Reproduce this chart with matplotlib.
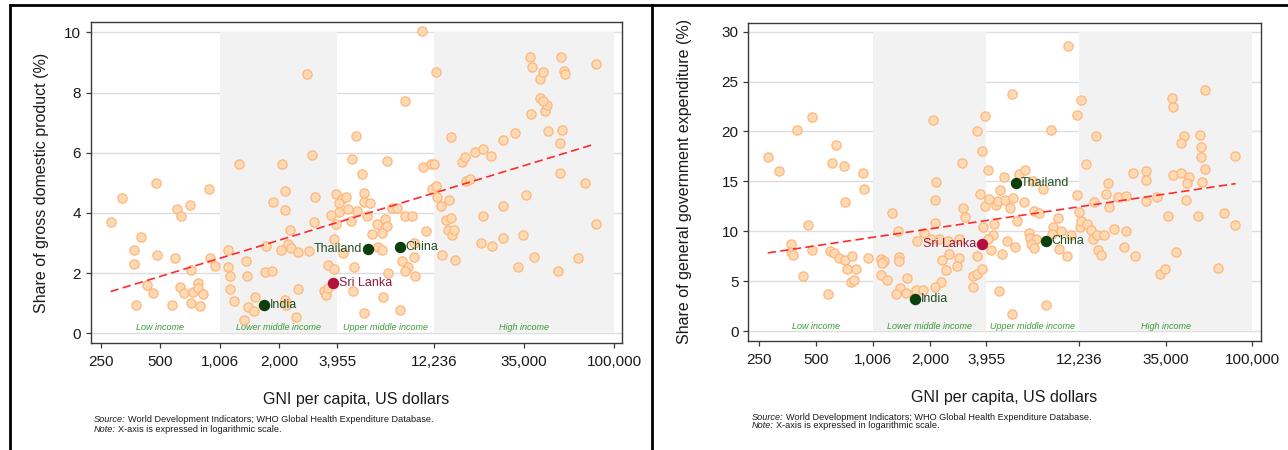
import numpy as np
import matplotlib
matplotlib.use("Agg")
import matplotlib.pyplot as plt
from matplotlib.lines import Line2D
from matplotlib.ticker import NullLocator, FixedLocator, FixedFormatter

plt.rcParams['font.family'] = ['Liberation Sans', 'DejaVu Sans']

# ---------------- data: panel 1 (share of GDP) ----------------
gdp_gni = [477, 319, 885, 607, 709, 638, 280, 400, 370, 370, 479, 597, 895, 949, 717,
           428, 459, 379, 577, 628, 661, 729, 779, 779, 819, 717, 791,
           1261, 1867, 1105, 1109, 1126, 1135, 1189, 1357, 1378, 1721, 1694, 1838, 1513,
           1400, 1496, 1331,
           2082, 2788, 10662, 12465, 8679, 4898, 14900, 2943, 4694, 7089, 10747, 11803,
           12270, 5255, 2140, 2156, 3060, 3894, 4161, 4359, 4049, 4016, 4463, 4957, 5420,
           5420, 5791, 5591, 3660, 3024, 2277, 3879, 4640, 6284, 6925, 7060, 6685, 5927,
           7458, 7965, 8713, 9416, 11130, 11892, 12465, 12658, 13262, 14615, 14056, 14390,
           15020, 13364,
           3805, 3561, 3805, 4242, 4787, 6383, 6685, 9714, 9714, 8379, 9057, 8713, 9791,
           7116, 4730, 6764, 5378, 8186,
           3385, 3452, 3561, 2509, 2148, 2160, 2432, 2050, 2216, 2304, 2509, 2853,
           14900, 15432, 15614, 16880, 17543, 17680, 18675, 19720, 21570, 23670, 27340,
           31320, 21570, 21150, 24130, 27450, 27450, 35750, 34520, 32430, 39400, 51720,
           65840, 70890, 81230, 53160, 53370, 54200, 46040, 38050, 44460, 45500, 41940,
           43590, 37600, 38340, 42270, 43590, 53580, 55920, 56140, 80920]
gdp_share = [5.01, 4.49, 4.79, 4.13, 4.28, 3.89, 3.70, 3.21, 2.78, 2.31, 2.61, 2.50, 2.52, 2.23, 2.11,
             1.61, 1.33, 0.94, 0.96, 1.53, 1.33, 1.36, 1.66, 1.50, 1.30, 1.02, 0.92,
             5.62, 4.38, 2.78, 2.22, 1.90, 1.49, 1.07, 2.40, 1.91, 2.91, 2.03, 2.07, 1.22,
             0.89, 0.76, 0.46,
             5.64, 8.61, 10.04, 8.68, 7.71, 6.56, 6.51, 5.92, 5.79, 5.74, 5.53, 5.64,
             5.62, 5.30, 4.74, 4.11, 4.54, 4.62, 4.48, 4.52, 4.34, 4.04, 4.12, 4.07, 4.66,
             4.37, 4.32, 3.89, 3.94, 3.71, 3.42, 3.62, 3.74, 3.62, 3.80, 3.57, 3.32, 3.31,
             4.17, 4.18, 3.91, 3.89, 3.39, 4.81, 4.88, 4.53, 4.24, 4.44, 3.78, 3.42,
             3.26, 2.59,
             3.12, 2.26, 2.14, 2.68, 2.22, 2.87, 2.76, 3.01, 2.53, 2.42, 2.20, 2.07, 1.90,
             2.01, 1.40, 1.22, 0.68, 0.79,
             1.40, 1.29, 1.50, 1.47, 1.12, 0.95, 0.56, 2.78, 2.96, 2.83, 2.70, 2.73,
             3.83, 3.44, 2.44, 5.70, 5.87, 5.06, 5.13, 6.03, 6.13, 5.88, 6.41,
             6.66, 3.89, 2.99, 2.89, 4.23, 3.17, 4.58, 3.28, 2.20, 2.53, 2.07,
             2.51, 5.00, 3.63, 5.32, 6.33, 6.77, 6.71, 7.27, 7.37, 7.59, 7.82,
             7.73, 9.17, 8.86, 8.46, 8.67, 9.17, 8.73, 8.61, 8.96]
gdp_hl_names = ["India", "Thailand", "China", "Sri Lanka"]
gdp_hl_gni = [1681, 5657, 8186, 3775]
gdp_hl_share = [0.93, 2.80, 2.88, 1.69]
gdp_trend_gni = [280, 80000]
gdp_trend_share = [1.39, 6.29]

# ---------------- data: panel 2 (share of government expenditure) ----------------
gghe_gni = [279, 319, 398, 480, 637, 607, 705, 884, 894, 716, 457, 369, 369, 381, 478,
            594, 626, 663, 716, 777, 728, 818, 767, 792, 428, 578, 947,
            1262, 1352, 1717, 1860, 1100, 1145, 1120, 1379, 1374, 1100, 1188, 1508, 1391,
            1325, 1490, 1689, 1831,
            10740, 5443, 12485, 11883, 8669, 3904, 2086, 3529, 3749, 2941, 4033, 15030,
            13310, 2145, 2128, 3002, 3062, 2119, 3660, 3890, 4082, 4463, 4686, 4591, 4958,
            5268, 5486, 4898, 5925, 6346, 6966, 7929, 6295, 5737, 7078, 7552, 4355, 3811,
            9437, 8952, 9786, 8772, 6689, 6720, 7223, 6799, 7108, 5620, 5100, 4782, 4217,
            4280, 4066, 9630, 10613, 11100, 12377, 12485, 12175, 11883, 13530, 14094,
            14440, 14614, 15343, 4628, 5397, 8190,
            2018, 2224, 2502, 2859, 2307, 2531, 2859, 2790, 2431, 2279, 2128, 3388, 3388,
            3557, 3749, 3557,
            15160, 15970, 16640, 18790, 21550, 21210, 24130, 17670, 16900, 17460, 19560,
            21550, 23650, 27490, 27490, 27490, 31400, 35880, 39570, 32700, 34610, 37830,
            38300, 56270, 43590, 42030, 53370, 54030, 53590, 56500, 54480, 38300, 42370,
            46330, 45390, 44660, 52090, 71130, 81310, 81310, 66150]
gghe_share = [17.47, 16.03, 20.10, 21.47, 18.60, 16.83, 16.57, 15.87, 14.23, 12.97, 10.63, 8.70, 7.87, 7.60, 8.10,
              8.03, 7.77, 7.33, 7.10, 7.47, 6.20, 6.20, 4.93, 5.10, 5.50, 3.70, 7.27,
              11.87, 10.03, 9.07, 9.80, 7.17, 7.00, 6.77, 7.40, 7.03, 5.60, 5.07, 5.33, 4.27,
              3.70, 3.83, 4.10, 4.10,
              28.53, 23.80, 23.17, 21.63, 20.17, 21.50, 21.13, 20.00, 18.03, 16.87, 16.17, 19.50,
              16.77, 14.97, 13.10, 12.37, 11.40, 10.87, 13.73, 12.53, 13.20, 12.60, 14.13, 13.00, 13.17,
              12.33, 13.33, 15.47, 15.77, 16.17, 15.03, 14.27, 12.93, 11.07, 12.07, 11.87, 10.73, 10.43,
              11.30, 10.40, 10.00, 9.77, 9.87, 9.37, 9.27, 8.70, 8.33, 8.43, 9.03, 7.70, 8.13,
              9.60, 9.27, 8.17, 7.47, 9.67, 10.43, 11.00, 11.93, 13.63, 10.77, 10.10,
              9.23, 12.93, 8.10, 3.97, 1.70, 2.63,
              9.27, 9.27, 9.00, 9.20, 7.10, 7.67, 7.33, 6.50, 6.10, 4.87, 4.43, 4.37, 5.53,
              5.67, 6.17, 7.53,
              9.60, 7.57, 9.67, 10.27, 10.07, 8.40, 7.50, 12.43, 13.70, 14.80, 13.40,
              13.53, 15.80, 16.00, 15.10, 13.07, 13.43, 11.53, 7.90, 5.67, 6.20, 23.37,
              22.47, 24.20, 19.53, 18.83, 19.63, 18.43, 17.40, 16.23, 14.90, 15.67, 15.83,
              15.40, 14.87, 13.10, 11.57, 11.87, 17.57, 10.60, 6.30]
gghe_hl_names = ["India", "Thailand", "China", "Sri Lanka"]
gghe_hl_gni = [1675, 5666, 8190, 3765]
gghe_hl_share = [3.20, 14.80, 9.07, 8.70]
gghe_trend_gni = [279, 82000]
gghe_trend_share = [7.83, 14.77]

# ---------------- shared axis data ----------------
x_ticks = [250, 500, 1006, 2000, 3955, 12236, 35000, 100000]
x_tick_labels = ["250", "500", "1,006", "2,000", "3,955", "12,236", "35,000", "100,000"]
band_edges = [250, 1006, 3955, 12236, 100000]
band_names = ["Low income", "Lower middle income", "Upper middle income", "High income"]

PEACH_FACE = '#ffdab5'
PEACH_EDGE = '#ffb67a'
GREEN = '#0b3f0b'
GREEN_TXT = '#244f24'
CRIMSON = '#b3123c'
CRIMSON_TXT = '#8c1c40'
BAND_GREY = '#f2f2f2'
GRID = '#dedede'
SPINE = '#3a3a3a'

fig = plt.figure(figsize=(12.88, 4.5), dpi=100)


def draw_panel(rect, xlim, ylim, yticks, ymax_band, gni, share, hl_names, hl_gni, hl_share,
               tr_gni, tr_share, ylabel, label_sides, ylabel_x, xlabel_y, band_label_y):
    ax = fig.add_axes(rect)
    ax.set_xscale('log')
    ax.set_xlim(*xlim)
    ax.set_ylim(*ylim)
    # gridlines below bands
    for yv in yticks:
        ax.axhline(yv, color=GRID, lw=1.0, zorder=0.5)
    # income bands
    for i in range(len(band_edges) - 1):
        if i % 2 == 1:
            ax.fill_between([band_edges[i], band_edges[i + 1]], 0, ymax_band,
                            color=BAND_GREY, lw=0, zorder=1)
        xm = np.sqrt(band_edges[i] * band_edges[i + 1])
        ax.text(xm, band_label_y, band_names[i], ha='center', va='center',
                fontsize=6.5, style='italic', color='#3a9a3a', zorder=2)
    # scatter
    ax.scatter(gni, share, s=44, facecolor=PEACH_FACE, edgecolor=PEACH_EDGE,
               linewidths=0.9, zorder=3)
    # trend
    ax.plot(tr_gni, tr_share, color='#ff2a2a', lw=1.2, ls=(0, (5, 2.6)), zorder=4)
    # highlights
    for name, gx, gy in zip(hl_names, hl_gni, hl_share):
        col = CRIMSON if name == "Sri Lanka" else GREEN
        tcol = CRIMSON_TXT if name == "Sri Lanka" else GREEN_TXT
        ax.scatter([gx], [gy], s=52, facecolor=col, edgecolor=col, zorder=5)
        side = label_sides[name]
        off = 4.0 if side == 'right' else -4.0
        ax.annotate(name, (gx, gy), xytext=(off, 0), textcoords='offset points',
                    ha='left' if side == 'right' else 'right', va='center',
                    fontsize=9, color=tcol, zorder=6)
    # ticks
    ax.xaxis.set_major_locator(FixedLocator(x_ticks))
    ax.xaxis.set_major_formatter(FixedFormatter(x_tick_labels))
    ax.xaxis.set_minor_locator(NullLocator())
    ax.set_yticks(yticks)
    ax.set_yticklabels([str(v) for v in yticks])
    ax.tick_params(axis='both', which='major', direction='out', length=3.6, width=0.9,
                   color=SPINE, labelsize=11, labelcolor='#1a1a1a', pad=3.5)
    ax.tick_params(axis='x', pad=5)
    for sp in ax.spines.values():
        sp.set_color(SPINE)
        sp.set_linewidth(1.0)
    ax.set_xlabel("GNI per capita, US dollars", fontsize=11.5, color='#1a1a1a')
    ax.set_ylabel(ylabel, fontsize=11.5, color='#1a1a1a')
    ax.xaxis.set_label_coords(0.5, xlabel_y)
    ax.yaxis.set_label_coords(ylabel_x, 0.5)
    return ax


ax1 = draw_panel([0.0704, 0.2370, 0.4123, 0.7140], (222, 109300), (-0.33, 10.34),
                 [0, 2, 4, 6, 8, 10], 10, gdp_gni, gdp_share,
                 gdp_hl_names, gdp_hl_gni, gdp_hl_share, gdp_trend_gni, gdp_trend_share,
                 "Share of gross domestic product (%)",
                 {"India": 'right', "Thailand": 'left', "China": 'right', "Sri Lanka": 'right'},
                 -0.078, -0.152, 0.2)
ax2 = draw_panel([0.5810, 0.2429, 0.3978, 0.7067], (220.5, 111100), (-0.97, 30.9),
                 [0, 5, 10, 15, 20, 25, 30], 30, gghe_gni, gghe_share,
                 gghe_hl_names, gghe_hl_gni, gghe_hl_share, gghe_trend_gni, gghe_trend_share,
                 "Share of general government expenditure (%)",
                 {"India": 'right', "Thailand": 'right', "China": 'right', "Sri Lanka": 'left'},
                 -0.110, -0.155, 0.45)

# source notes
renderer = fig.canvas.get_renderer()


def note(x_px, y_px, lead, rest):
    t = fig.text(x_px / 1288, 1 - y_px / 450, lead, fontsize=6.6, style='italic',
                 ha='left', va='center', color='#1a1a1a')
    bb = t.get_window_extent(renderer=renderer)
    fig.text((bb.x1 + 2) / 1288, 1 - y_px / 450, rest, fontsize=6.6,
             ha='left', va='center', color='#1a1a1a')


note(94, 420, "Source:", "World Development Indicators; WHO Global Health Expenditure Database.")
note(94, 429, "Note:", "X-axis is expressed in logarithmic scale.")
note(752, 417, "Source:", "World Development Indicators; WHO Global Health Expenditure Database.")
note(752, 426, "Note:", "X-axis is expressed in logarithmic scale.")

# outer frame lines
for (x0, y0, x1, y1) in [(9.5, 5, 1288, 5), (9.5, 5, 9.5, 450), (652, 5, 652, 450)]:
    fig.add_artist(Line2D([x0 / 1288, x1 / 1288], [1 - y0 / 450, 1 - y1 / 450],
                          color='black', lw=2.0, transform=fig.transFigure))

fig.savefig("out.png", dpi=100)
